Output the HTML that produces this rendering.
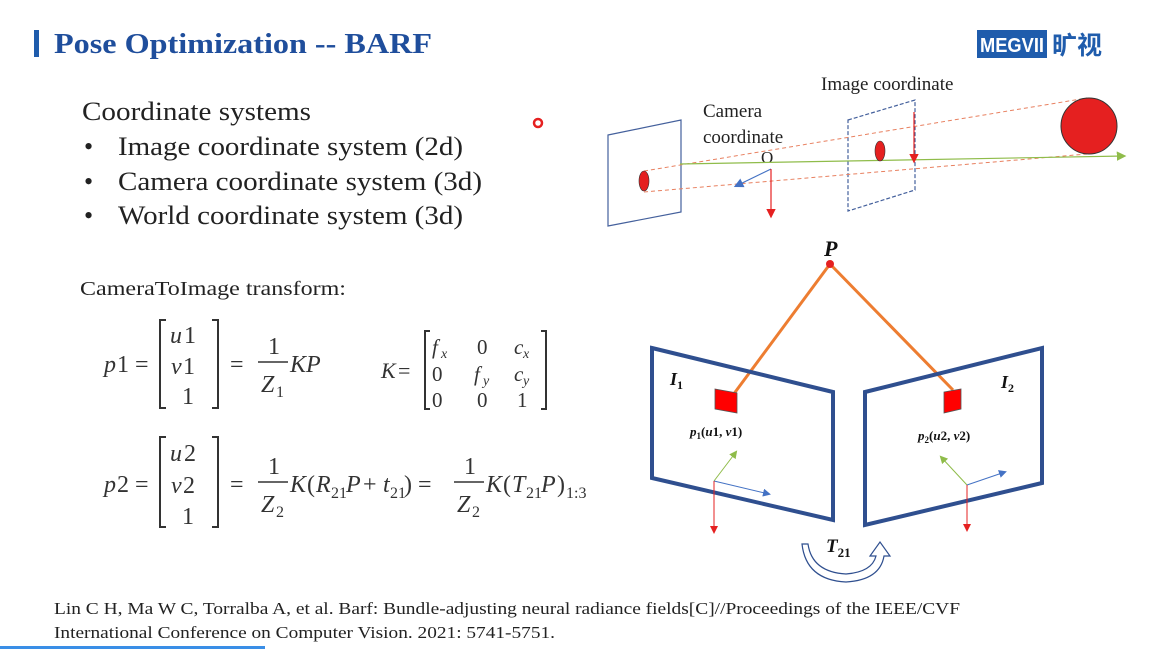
<!DOCTYPE html>
<html><head><meta charset="utf-8"><style>
html,body{margin:0;padding:0;background:#fff;width:1157px;height:649px;overflow:hidden}
svg{display:block}
.s{font-family:"Liberation Serif",serif}
.m{font-family:"Liberation Serif",serif;font-style:italic;fill:#333}
.n{font-family:"Liberation Serif",serif;fill:#333}
</style></head><body>
<svg width="1157" height="649" viewBox="0 0 1157 649">
<defs>
<marker id="ab" markerWidth="8" markerHeight="8" refX="6" refY="4" orient="auto"><path d="M0,0L8,4L0,8z" fill="#4472c4"/></marker>
<marker id="ar" markerWidth="8" markerHeight="8" refX="6" refY="4" orient="auto"><path d="M0,0L8,4L0,8z" fill="#e52020"/></marker>
<marker id="ag" markerWidth="8" markerHeight="8" refX="6" refY="4" orient="auto"><path d="M0,0L8,4L0,8z" fill="#8fbc4a"/></marker>
</defs>
<rect x="34" y="30" width="5" height="27" fill="#1f5cac"/>
<text x="54" y="53" class="s" font-size="28" font-weight="bold" fill="#1f4e9c" textLength="378" lengthAdjust="spacingAndGlyphs">Pose Optimization -- BARF</text>
<g>
<rect x="977" y="30" width="70" height="28" fill="#1f5cac"/>
<text x="1012" y="52" text-anchor="middle" font-family="Liberation Sans,sans-serif" font-weight="bold" font-size="20" fill="#fff" textLength="64" lengthAdjust="spacingAndGlyphs">MEGVII</text>
<text x="1052" y="54" font-family="Liberation Sans,'Noto Sans CJK SC',sans-serif" font-weight="bold" font-size="25" fill="#1f5cac">旷视</text>
</g>
<g class="s" font-size="26" fill="#222">
<text x="82" y="120" textLength="229" lengthAdjust="spacingAndGlyphs">Coordinate systems</text>
<text x="84" y="155">•</text><text x="118" y="155" textLength="345" lengthAdjust="spacingAndGlyphs">Image coordinate system (2d)</text>
<text x="84" y="190">•</text><text x="118" y="190" textLength="364" lengthAdjust="spacingAndGlyphs">Camera coordinate system (3d)</text>
<text x="84" y="224">•</text><text x="118" y="224" textLength="345" lengthAdjust="spacingAndGlyphs">World coordinate system (3d)</text>
</g>
<circle cx="538" cy="123" r="4" fill="none" stroke="#e52020" stroke-width="2.5"/>
<text x="80" y="295" class="s" font-size="20" fill="#222" textLength="266" lengthAdjust="spacingAndGlyphs">CameraToImage transform:</text>
<g font-size="24">
<text x="104" y="372" class="m">p</text><text x="117" y="372" class="n">1 =</text>
<path d="M166,320h-6v88h6M212,320h6v88h-6" fill="none" stroke="#333" stroke-width="2"/>
<text x="170" y="343" class="m">u</text><text x="184" y="343" class="n">1</text>
<text x="171" y="374" class="m">v</text><text x="183" y="374" class="n">1</text>
<text x="182" y="404" class="n">1</text>
<text x="230" y="372" class="n">=</text>
<text x="268" y="354" class="n">1</text><line x1="258" y1="362" x2="288" y2="362" stroke="#333" stroke-width="1.5"/>
<text x="261" y="392" class="m">Z</text><text x="276" y="397" class="n" font-size="16">1</text>
<text x="290" y="372" class="m">KP</text>
<text x="381" y="378" class="m" font-size="22">K</text><text x="398" y="378" class="n" font-size="22">=</text>
<path d="M430,331h-5v78h5M541,331h5v78h-5" fill="none" stroke="#333" stroke-width="2"/>
<text x="432" y="354" class="m" font-size="21">f</text><text x="441" y="358" class="m" font-size="14">x</text>
<text x="477" y="354" class="n" font-size="21">0</text>
<text x="514" y="354" class="m" font-size="21">c</text><text x="523" y="358" class="m" font-size="14">x</text>
<text x="432" y="381" class="n" font-size="21">0</text>
<text x="474" y="381" class="m" font-size="21">f</text><text x="483" y="385" class="m" font-size="14">y</text>
<text x="514" y="381" class="m" font-size="21">c</text><text x="523" y="385" class="m" font-size="14">y</text>
<text x="432" y="407" class="n" font-size="21">0</text><text x="477" y="407" class="n" font-size="21">0</text><text x="517" y="407" class="n" font-size="21">1</text>
</g>
<g font-size="24">
<text x="104" y="492" class="m">p</text><text x="117" y="492" class="n">2 =</text>
<path d="M166,437h-6v90h6M212,437h6v90h-6" fill="none" stroke="#333" stroke-width="2"/>
<text x="170" y="461" class="m">u</text><text x="184" y="461" class="n">2</text>
<text x="171" y="493" class="m">v</text><text x="183" y="493" class="n">2</text>
<text x="182" y="524" class="n">1</text>
<text x="230" y="492" class="n">=</text>
<text x="268" y="474" class="n">1</text><line x1="258" y1="482" x2="288" y2="482" stroke="#333" stroke-width="1.5"/>
<text x="261" y="512" class="m">Z</text><text x="276" y="517" class="n" font-size="16">2</text>
<text x="290" y="492" class="m">K</text><text x="307" y="492" class="n">(</text><text x="316" y="492" class="m">R</text><text x="331" y="498" class="n" font-size="16">21</text><text x="346" y="492" class="m">P</text><text x="363" y="492" class="n">+</text><text x="383" y="492" class="m">t</text><text x="390" y="498" class="n" font-size="16">21</text><text x="404" y="492" class="n">) =</text>
<text x="464" y="474" class="n">1</text><line x1="454" y1="482" x2="484" y2="482" stroke="#333" stroke-width="1.5"/>
<text x="457" y="512" class="m">Z</text><text x="472" y="517" class="n" font-size="16">2</text>
<text x="486" y="492" class="m">K</text><text x="503" y="492" class="n">(</text><text x="512" y="492" class="m">T</text><text x="526" y="498" class="n" font-size="16">21</text><text x="541" y="492" class="m">P</text><text x="557" y="492" class="n">)</text><text x="566" y="498" class="n" font-size="16">1:3</text>
</g>
<g>
<text x="821" y="90" class="s" font-size="19" fill="#222">Image coordinate</text>
<text x="703" y="117" class="s" font-size="19" fill="#222">Camera</text>
<text x="703" y="143" class="s" font-size="19" fill="#222">coordinate</text>
<text x="761" y="163" class="s" font-size="17" fill="#222">O</text>
<polygon points="608,135 681,120 681,212 608,226" fill="none" stroke="#44609c" stroke-width="1.2"/>
<polygon points="848,120 915,100 915,190 848,211" fill="none" stroke="#44609c" stroke-width="1.2" stroke-dasharray="4,2"/>
<line x1="644" y1="171" x2="1087" y2="98" stroke="#e88060" stroke-width="1" stroke-dasharray="4,3"/>
<line x1="644" y1="192" x2="1087" y2="154" stroke="#e88060" stroke-width="1" stroke-dasharray="4,3"/>
<line x1="680" y1="164" x2="1124" y2="156" stroke="#8fbc4a" stroke-width="1.2" marker-end="url(#ag)"/>
<ellipse cx="644" cy="181" rx="5" ry="10" fill="#e52020" stroke="#333" stroke-width="0.6"/>
<ellipse cx="880" cy="151" rx="5" ry="10" fill="#e52020" stroke="#333" stroke-width="0.6"/>
<circle cx="1089" cy="126" r="28" fill="#e52020" stroke="#333" stroke-width="1"/>
<line x1="771" y1="169" x2="736" y2="186" stroke="#4472c4" stroke-width="1.2" marker-end="url(#ab)"/>
<line x1="771" y1="169" x2="771" y2="216" stroke="#e52020" stroke-width="1.2" marker-end="url(#ar)"/>
<line x1="914" y1="112" x2="914" y2="161" stroke="#e52020" stroke-width="1.2" marker-end="url(#ar)"/>
</g>
<g>
<line x1="830" y1="264" x2="733" y2="395" stroke="#ed7d31" stroke-width="3"/>
<line x1="830" y1="264" x2="953" y2="390" stroke="#ed7d31" stroke-width="3"/>
<polygon points="652,348 833,392 833,520 652,478" fill="none" stroke="#2f4f8f" stroke-width="4"/>
<polygon points="865,392 1042,348 1042,483 865,525" fill="none" stroke="#2f4f8f" stroke-width="4"/>
<circle cx="830" cy="264" r="4" fill="#e52020"/>
<text x="824" y="256" class="s" font-size="22" font-weight="bold" font-style="italic" fill="#111">P</text>
<polygon points="715,389 737,393 737,413 715,409" fill="#ff0000" stroke="#555" stroke-width="0.8"/>
<polygon points="944,392 961,389 961,409 944,413" fill="#ff0000" stroke="#555" stroke-width="0.8"/>
<text x="670" y="385" class="s" font-size="18" font-weight="bold" font-style="italic" fill="#111">I<tspan font-size="12" dy="4" font-style="normal">1</tspan></text>
<text x="1001" y="388" class="s" font-size="18" font-weight="bold" font-style="italic" fill="#111">I<tspan font-size="12" dy="4" font-style="normal">2</tspan></text>
<text x="690" y="436" class="s" font-size="13" font-weight="bold" font-style="italic" fill="#111">p<tspan font-size="9" dy="3" font-style="normal">1</tspan><tspan dy="-3" font-style="normal">(</tspan>u<tspan font-style="normal">1, </tspan>v<tspan font-style="normal">1)</tspan></text>
<text x="918" y="440" class="s" font-size="13" font-weight="bold" font-style="italic" fill="#111">p<tspan font-size="9" dy="3" font-style="normal">2</tspan><tspan dy="-3" font-style="normal">(</tspan>u<tspan font-style="normal">2, </tspan>v<tspan font-style="normal">2)</tspan></text>
<line x1="714" y1="481" x2="736" y2="452" stroke="#8fbc4a" stroke-width="1" marker-end="url(#ag)"/>
<line x1="714" y1="481" x2="769" y2="494" stroke="#4472c4" stroke-width="1" marker-end="url(#ab)"/>
<line x1="714" y1="481" x2="714" y2="532" stroke="#e52020" stroke-width="1" marker-end="url(#ar)"/>
<line x1="967" y1="485" x2="941" y2="457" stroke="#8fbc4a" stroke-width="1" marker-end="url(#ag)"/>
<line x1="967" y1="485" x2="1005" y2="472" stroke="#4472c4" stroke-width="1" marker-end="url(#ab)"/>
<line x1="967" y1="485" x2="967" y2="530" stroke="#e52020" stroke-width="1" marker-end="url(#ar)"/>
<path d="M802,544 Q806,580 846,582 Q880,580 884,556 L890,556 L880,542 L870,556 L876,556 Q872,572 846,574 Q812,572 808,544 Z" fill="#fff" stroke="#2f4f8f" stroke-width="1.2"/>
<text x="826" y="552" class="s" font-size="19" font-weight="bold" font-style="italic" fill="#111">T<tspan font-size="13" dy="5" font-style="normal">21</tspan></text>
</g>
<g class="s" font-size="17" fill="#222">
<text x="54" y="614" textLength="906" lengthAdjust="spacingAndGlyphs">Lin C H, Ma W C, Torralba A, et al. Barf: Bundle-adjusting neural radiance fields[C]//Proceedings of the IEEE/CVF</text>
<text x="54" y="638" textLength="501" lengthAdjust="spacingAndGlyphs">International Conference on Computer Vision. 2021: 5741-5751.</text>
</g>
<rect x="0" y="646" width="265" height="3" fill="#3a8ee6"/>
</svg>
</body></html>
